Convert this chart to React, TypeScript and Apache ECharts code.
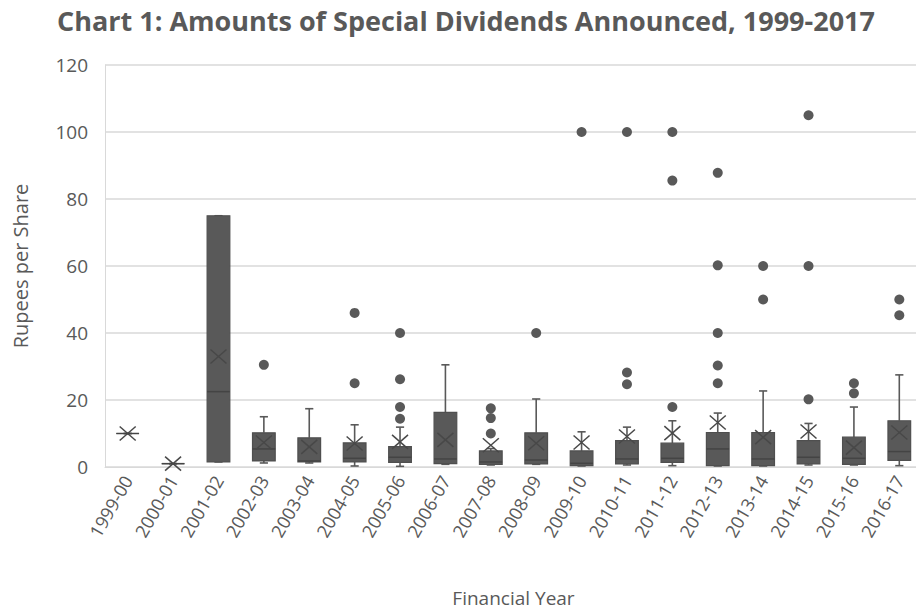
import React, { useEffect, useRef } from "react";
import * as echarts from "echarts";

const categories = [
  "1999-00", "2000-01", "2001-02", "2002-03", "2003-04", "2004-05",
  "2005-06", "2006-07", "2007-08", "2008-09", "2009-10", "2010-11",
  "2011-12", "2012-13", "2013-14", "2014-15", "2015-16", "2016-17",
];
const whiskerLow = [10, 1, 1.5, 1.2, 1.2, 0.3, 0.2, 0.8, 0.6, 0.8, 0.3, 0.6, 0.4, 0.3, 0.3, 0.6, 0.6, 0.4];
const q1 = [10, 1, 1.5, 1.8, 1.5, 1.5, 1.4, 1, 0.8, 0.9, 0.4, 0.9, 1.4, 0.4, 0.4, 0.9, 0.8, 2];
const median = [10, 1, 22.5, 5.4, 1.8, 2.6, 2.9, 2.4, 1.5, 2.1, 1.1, 2.4, 2.6, 5.4, 2.4, 2.9, 2.6, 4.6];
const q3 = [10, 1, 75, 10.2, 8.7, 7.2, 6.1, 16.3, 4.8, 10.2, 4.8, 7.9, 7.1, 10.3, 10.3, 7.9, 8.9, 13.8];
const whiskerHigh = [10, 1, 75, 15, 17.4, 12.6, 11.9, 30.5, 5.5, 20.3, 10.5, 11.9, 13.8, 16.1, 22.7, 13, 17.9, 27.5];
const mean = [10, 1, 33, 7.3, 6, 7, 7.5, 8.1, 6.5, 7.1, 7.3, 9.1, 10.1, 13.3, 8.9, 10.6, 5.8, 10.3];
const outliers: [number, number][] = [
  [3, 30.5],
  [5, 46], [5, 25],
  [6, 40], [6, 26.2], [6, 17.9], [6, 14.4],
  [8, 17.5], [8, 14.6], [8, 10],
  [9, 40],
  [10, 100],
  [11, 100], [11, 28.2], [11, 24.7],
  [12, 100], [12, 85.5], [12, 17.9],
  [13, 87.8], [13, 60.2], [13, 40], [13, 30.3], [13, 25],
  [14, 60], [14, 50],
  [15, 105], [15, 60], [15, 20.2],
  [16, 25], [16, 22],
  [17, 50], [17, 45.3],
];

const yTicks = { min: 0, max: 120, interval: 20 };

const GRID = "#d9d9d9";
const TEXT = "#595959";
const BOX = "#595959";
const FONT = "'Open Sans', sans-serif";

export default function App() {
  const ref = useRef<HTMLDivElement>(null);

  useEffect(() => {
    document.body.style.margin = "0";
    document.body.style.overflow = "hidden";
    if (!ref.current) return;
    const chart = echarts.init(ref.current, undefined, { renderer: "svg" });

    const boxData = categories.map((_, i) => [
      i, whiskerLow[i], q1[i], median[i], q3[i], whiskerHigh[i], mean[i],
    ]);

    const renderItem = (params: any, api: any) => {
      const idx = api.value(0);
      const low = api.coord([idx, api.value(1)]);
      const pq1 = api.coord([idx, api.value(2)]);
      const pmed = api.coord([idx, api.value(3)]);
      const pq3 = api.coord([idx, api.value(4)]);
      const high = api.coord([idx, api.value(5)]);
      const pmean = api.coord([idx, api.value(6)]);
      const band = api.size([1, 0])[0];
      const cx = low[0];
      const bw = band * 0.5;
      const cap = band * 0.09;
      const lineStyle = { stroke: BOX, lineWidth: 1.6 };
      const children: any[] = [];
      children.push({
        type: "line",
        shape: { x1: cx, y1: pq3[1], x2: cx, y2: high[1] },
        style: lineStyle,
      });
      children.push({
        type: "line",
        shape: { x1: cx - cap, y1: high[1], x2: cx + cap, y2: high[1] },
        style: lineStyle,
      });
      children.push({
        type: "line",
        shape: { x1: cx, y1: pq1[1], x2: cx, y2: low[1] },
        style: lineStyle,
      });
      children.push({
        type: "line",
        shape: { x1: cx - cap, y1: low[1], x2: cx + cap, y2: low[1] },
        style: lineStyle,
      });
      children.push({
        type: "rect",
        shape: { x: cx - bw / 2, y: pq3[1], width: bw, height: Math.max(pq1[1] - pq3[1], 0) },
        style: { fill: BOX, stroke: "#4f4f4f", lineWidth: 1.2 },
      });
      children.push({
        type: "line",
        shape: { x1: cx - bw / 2, y1: pmed[1], x2: cx + bw / 2, y2: pmed[1] },
        style: { stroke: "#444444", lineWidth: 1.5 },
      });
      const mx = 8, my = 7;
      const xStyle = { stroke: "#484848", lineWidth: 1.5 };
      children.push({
        type: "line",
        shape: { x1: cx - mx, y1: pmean[1] - my, x2: cx + mx, y2: pmean[1] + my },
        style: xStyle,
      });
      children.push({
        type: "line",
        shape: { x1: cx - mx, y1: pmean[1] + my, x2: cx + mx, y2: pmean[1] - my },
        style: xStyle,
      });
      return { type: "group", children };
    };

    chart.setOption({
      animation: false,
      title: {
        text: "Chart 1: Amounts of Special Dividends Announced, 1999-2017",
        left: 52,
        top: 2,
        textStyle: { fontFamily: FONT, fontSize: 27, fontWeight: "bold", color: TEXT },
      },
      grid: {
        left: 105, top: 65, width: 817, height: 402,
        containLabel: false, outerBoundsMode: "none",
      },
      xAxis: {
        type: "category",
        data: categories,
        boundaryGap: true,
        name: "Financial Year",
        nameLocation: "middle",
        nameGap: 121,
        nameTextStyle: { fontFamily: FONT, fontSize: 19, color: TEXT },
        axisLine: { show: true, lineStyle: { color: GRID, width: 1 } },
        axisTick: { show: false },
        axisLabel: {
          rotate: 60,
          interval: 0,
          margin: 10,
          fontFamily: FONT,
          fontSize: 18,
          color: TEXT,
        },
        splitLine: { show: false },
      },
      yAxis: {
        type: "value",
        min: yTicks.min,
        max: yTicks.max,
        interval: yTicks.interval,
        name: "Rupees per Share",
        nameLocation: "middle",
        nameGap: 75,
        nameTextStyle: { fontFamily: FONT, fontSize: 20, color: TEXT },
        axisLine: { show: true, lineStyle: { color: GRID, width: 1 } },
        axisTick: { show: false },
        axisLabel: { margin: 17, fontFamily: FONT, fontSize: 19, color: TEXT },
        splitLine: { show: true, lineStyle: { color: GRID, width: 1.5 } },
      },
      series: [
        {
          type: "custom",
          renderItem,
          data: boxData,
          encode: { x: 0, y: [1, 2, 3, 4, 5, 6] },
          z: 2,
        },
        {
          type: "scatter",
          data: outliers,
          symbol: "circle",
          symbolSize: 10,
          itemStyle: { color: BOX, opacity: 1 },
          z: 3,
        },
      ],
    });

    return () => chart.dispose();
  }, []);

  return <div ref={ref} style={{ width: 916, height: 611 }} />;
}
